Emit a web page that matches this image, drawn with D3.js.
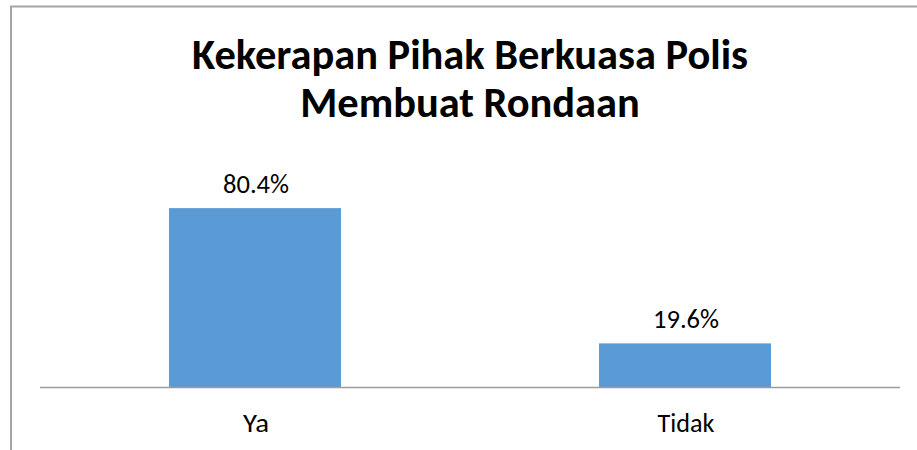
<!DOCTYPE html>
<html>
<head>
<meta charset="utf-8">
<script src="https://cdn.jsdelivr.net/npm/d3@7"></script>
<style>
  body { margin: 0; background: #fff; }
  svg { display: block; }
  text { font-family: Carlito, "Open Sans", "Noto Sans", sans-serif; fill: #000; }
</style>
</head>
<body>
<script>
// chart data
var categories = ["Ya", "Tidak"];
var values = [80.4, 19.6];
var valueLabels = ["80.4%", "19.6%"];
var titleLines = ["Kekerapan Pihak Berkuasa Polis", "Membuat Rondaan"];

var width = 917, height = 450;

var svg = d3.select("body")
    .append("svg")
    .attr("width", width)
    .attr("height", height);

// chart frame (only top and left edges are visible)
svg.append("line")
    .attr("x1", 10).attr("x2", width)
    .attr("y1", 6.5).attr("y2", 6.5)
    .style("stroke", "#a5a5a5")
    .style("stroke-width", 2);
svg.append("line")
    .attr("x1", 11).attr("x2", 11)
    .attr("y1", 6).attr("y2", height)
    .style("stroke", "#a5a5a5")
    .style("stroke-width", 2);

var x = d3.scaleBand()
    .domain(categories)
    .range([40, 900])
    .padding(0);

var y = d3.scaleLinear()
    .domain([0, 100])
    .range([387, 164.5]);

var barWidth = x.bandwidth() * 0.4;

// bars
svg.append("g")
    .selectAll("rect")
    .data(values)
    .enter().append("rect")
    .attr("x", function (d, i) { return x(categories[i]) + x.bandwidth() / 2 - barWidth / 2; })
    .attr("y", function (d) { return y(d); })
    .attr("width", barWidth)
    .attr("height", function (d) { return y(0) - y(d); })
    .style("fill", "#5b9bd5");

// axis line
svg.append("line")
    .attr("x1", x.range()[0]).attr("x2", x.range()[1])
    .attr("y1", y(0) + 0.5).attr("y2", y(0) + 0.5)
    .style("stroke", "#9c9c9c")
    .style("stroke-width", 1.5);

// value labels
svg.append("g")
    .selectAll("text")
    .data(values)
    .enter().append("text")
    .attr("x", function (d, i) { return x(categories[i]) + x.bandwidth() / 2 + 1; })
    .attr("y", function (d) { return y(d) - 15; })
    .attr("text-anchor", "middle")
    .style("font-size", "26px")
    .text(function (d, i) { return valueLabels[i]; })
    .each(function () { fitWidth(this, 66); });

// category labels
svg.append("g")
    .selectAll("text")
    .data(categories)
    .enter().append("text")
    .attr("x", function (d) { return x(d) + x.bandwidth() / 2 + 1; })
    .attr("y", 432)
    .attr("text-anchor", "middle")
    .style("font-size", "26px")
    .text(function (d) { return d; })
    .each(function (d) { fitWidth(this, d == "Ya" ? 26 : 57); });

// title
var title = svg.append("g")
    .selectAll("text")
    .data(titleLines)
    .enter().append("text")
    .attr("x", 470)
    .attr("y", function (d, i) { return 69 + i * 48; })
    .attr("text-anchor", "middle")
    .style("font-size", "42px")
    .style("font-weight", "bold")
    .text(function (d) { return d; });

// fit the title so the first line spans the same width as the original
var first = title.nodes()[0].getComputedTextLength();
var k = 556 / first;
title.each(function () {
    d3.select(this)
        .attr("textLength", this.getComputedTextLength() * k)
        .attr("lengthAdjust", "spacingAndGlyphs");
});

function fitWidth(node, target) {
    d3.select(node)
        .attr("textLength", target)
        .attr("lengthAdjust", "spacingAndGlyphs");
}
</script>
</body>
</html>
